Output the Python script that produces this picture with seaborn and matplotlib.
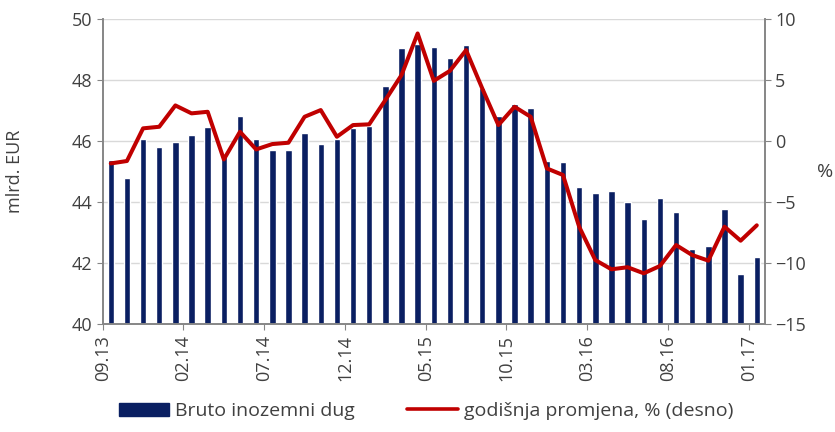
import numpy as np
import pandas as pd
import matplotlib
matplotlib.use("Agg")
import matplotlib.pyplot as plt
import seaborn as sns
from matplotlib.lines import Line2D
from matplotlib.patches import Patch

# monthly data 09.13 - 01.17
months = pd.date_range("2013-09-01", "2017-01-01", freq="MS").strftime("%m.%y").tolist()

debt = [45.38, 44.78, 46.08, 45.82, 45.98, 46.21, 46.48, 45.51, 46.83, 46.06,
        45.71, 45.71, 46.26, 45.91, 46.09, 46.42, 46.50, 47.83, 49.05, 49.20,
        49.08, 48.72, 49.16, 47.74, 46.83, 47.21, 47.10, 45.36, 45.31, 44.49,
        44.29, 44.36, 44.01, 43.45, 44.15, 43.69, 42.45, 42.56, 43.78, 41.64,
        42.19]

change = [-1.82, -1.62, 1.06, 1.19, 2.94, 2.29, 2.42, -1.49, 0.78, -0.67,
          -0.23, -0.12, 2.01, 2.56, 0.37, 1.33, 1.39, 3.38, 5.43, 8.85,
          4.96, 5.78, 7.48, 4.34, 1.33, 2.83, 2.01, -2.23, -2.77, -7.01,
          -9.75, -10.51, -10.34, -10.84, -10.24, -8.52, -9.34, -9.80, -7.01, -8.16,
          -6.90]

bar_label = "Bruto inozemni dug"
line_label = "godišnja promjena, % (desno)"

sns.set_style("white")
plt.rcParams["font.family"] = ["Open Sans", "DejaVu Sans"]

TXT = "#404040"
NAVY = "#0A1F62"
RED = "#C00000"
SPINE = "#868686"

fig = plt.figure(figsize=(8.35, 4.32), dpi=100)
ax = fig.add_axes([0.123, 0.25, 0.793, 0.705])

df = pd.DataFrame({"month": months, "debt": debt, "change": change})
sns.barplot(data=df, x="month", y="debt", ax=ax, color=NAVY, width=0.4,
            saturation=1, zorder=2)
ax.set_ylim(40, 50)
ax.set_yticks(np.arange(40, 51, 2))
ax.set_xlim(-0.5, len(months) - 0.5)
ax.yaxis.grid(True, color="#d9d9d9", linewidth=1, zorder=0)
ax.set_axisbelow(True)

# labels sit on category boundaries, every 5 months
tick_pos = np.arange(0, len(months), 5)
ax.set_xticks(tick_pos - 0.5)
ax.set_xticklabels([months[i] for i in tick_pos], rotation=90)
ax.set_xlabel("")
ax.set_ylabel("mlrd. EUR", fontsize=13, color=TXT, labelpad=34)

ax2 = ax.twinx()
sns.lineplot(x=np.arange(len(months)), y=change, ax=ax2, color=RED,
             linewidth=2.9, zorder=3)
ax2.set_ylim(-15, 10)
ax2.set_yticks(np.arange(-15, 11, 5))
ax2.set_ylabel("%", rotation=0, fontsize=14, color=TXT, labelpad=14, va="center")

for a in (ax, ax2):
    a.tick_params(axis="both", colors=TXT, labelsize=13, length=4,
                  color=SPINE, direction="out")
    for side in ("left", "right", "bottom"):
        a.spines[side].set_color(SPINE)
        a.spines[side].set_linewidth(1.2)
    a.spines["top"].set_visible(False)
ax.tick_params(axis="y", left=True)
ax.tick_params(axis="x", bottom=True, pad=4)

handles = [Patch(facecolor=NAVY, edgecolor=NAVY),
           Line2D([0], [0], color=RED, linewidth=2.6)]
fig.legend(handles, [bar_label, line_label], loc="center", ncol=2,
           bbox_to_anchor=(0.51, 0.048), frameon=False, fontsize=14,
           labelcolor=TXT, columnspacing=2.7, handlelength=2.6, handletextpad=0.3)

fig.savefig("out.png", dpi=100)
